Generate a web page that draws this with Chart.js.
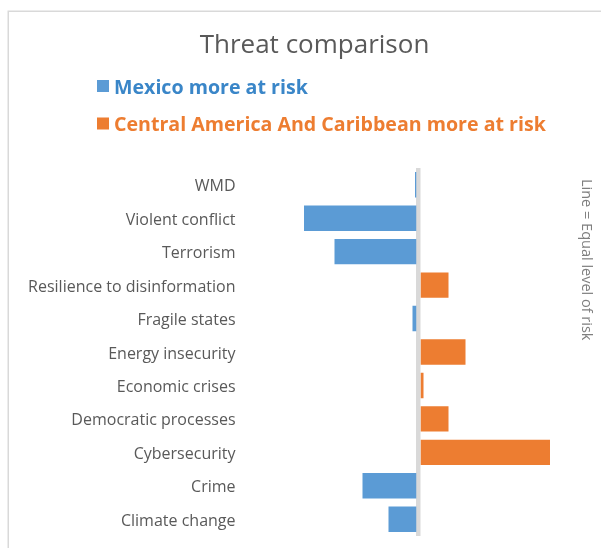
<!DOCTYPE html>
<html>
<head>
<meta charset="utf-8">
<script src="https://cdn.jsdelivr.net/npm/chart.js@4"></script>
<style>
  body { margin: 0; background: #fff; }
  canvas { display: block; }
</style>
</head>
<body>
<canvas id="threatChart" width="601" height="548"></canvas>
<script>
// threats, top to bottom
const categories = [
  "WMD", "Violent conflict", "Terrorism", "Resilience to disinformation",
  "Fragile states", "Energy insecurity", "Economic crises",
  "Democratic processes", "Cybersecurity", "Crime", "Climate change"
];
// negative = Mexico more at risk, positive = Central America more at risk
const mexicoValues = [-0.35, -11.45, -8.4, null, -0.6, null, null, null, null, -5.6, -3.0];
const centralValues = [null, null, null, 3.0, null, 4.7, 0.5, 3.0, 13.15, null, null];
const seriesNames = ["Mexico more at risk", "Central America And Caribbean more at risk"];

const blue = "#5b9bd5";
const orange = "#ed7d31";
const legendTextColors = ["#3a86c8", "#ed7d31"];

// frame, legend and the side note
const extrasPlugin = {
  id: "extras",
  beforeDraw(chart) {
    const c = chart.ctx;
    c.save();
    c.strokeStyle = "#d9d9d9";
    c.lineWidth = 1.5;
    c.beginPath();
    c.moveTo(8.25, 700);
    c.lineTo(8.25, 11.25);
    c.lineTo(700, 11.25);
    c.stroke();
    c.restore();
  },
  afterDraw(chart) {
    const c = chart.ctx;
    c.save();
    chart.data.datasets.forEach((ds, i) => {
      const y = 80 + i * 37.5;
      c.fillStyle = ds.backgroundColor;
      c.fillRect(97, y, 12, 12);
      c.fillStyle = legendTextColors[i];
      c.font = "bold 19.6px 'Open Sans'";
      c.textBaseline = "alphabetic";
      c.fillText(ds.label, 114, y + 13.5);
    });

    c.translate(586.5, 179);
    c.rotate(Math.PI / 2);
    c.fillStyle = "#7f7f7f";
    c.font = "14.5px 'Open Sans'";
    c.textBaseline = "middle";
    c.fillText("Line = Equal level of risk", 0, 0);
    c.restore();
  }
};

const ctx = document.getElementById("threatChart").getContext("2d");
const threatChart = new Chart(ctx, {
  type: "bar",
  data: {
    labels: categories,
    datasets: [
      {
        label: seriesNames[0],
        data: mexicoValues,
        backgroundColor: blue,
        borderWidth: 0,
      },
      {
        label: seriesNames[1],
        data: centralValues,
        backgroundColor: orange,
        borderWidth: 0,
      },
    ],
  },
  options: {
    indexAxis: "y",
    responsive: false,
    animation: false,
    categoryPercentage: 1,
    barPercentage: 0.76,
    layout: {
      padding: { left: 28, right: 0, top: 0, bottom: 12 },
    },
    plugins: {
      legend: { display: false },
      tooltip: { enabled: false },
      title: {
        display: true,
        text: "Threat comparison",
        color: "#595959",
        font: { family: "'Open Sans'", size: 26, weight: "normal" },
        padding: { top: 30, bottom: 106.8 },
      },
    },
    scales: {
      x: {
        stacked: true,
        min: -17.5,
        max: 18.25,
        z: 1,
        afterBuildTicks: (scale) => {
          scale.ticks = [{ value: 0 }];
        },
        afterFit: (scale) => {
          scale.height = 0;
        },
        ticks: { display: false },
        border: { display: false },
        grid: {
          drawTicks: false,
          color: "#d9d9d9",
          lineWidth: 4.5,
        },
      },
      y: {
        stacked: true,
        afterFit: (scale) => {
          scale.width = 215.5;
        },
        border: { display: false },
        grid: { display: false },
        ticks: {
          padding: 0,
          labelOffset: 2,
          color: "#595959",
          font: { family: "'Open Sans'", size: 16 },
        },
      },
    },
  },
  plugins: [extrasPlugin],
});
</script>
</body>
</html>
